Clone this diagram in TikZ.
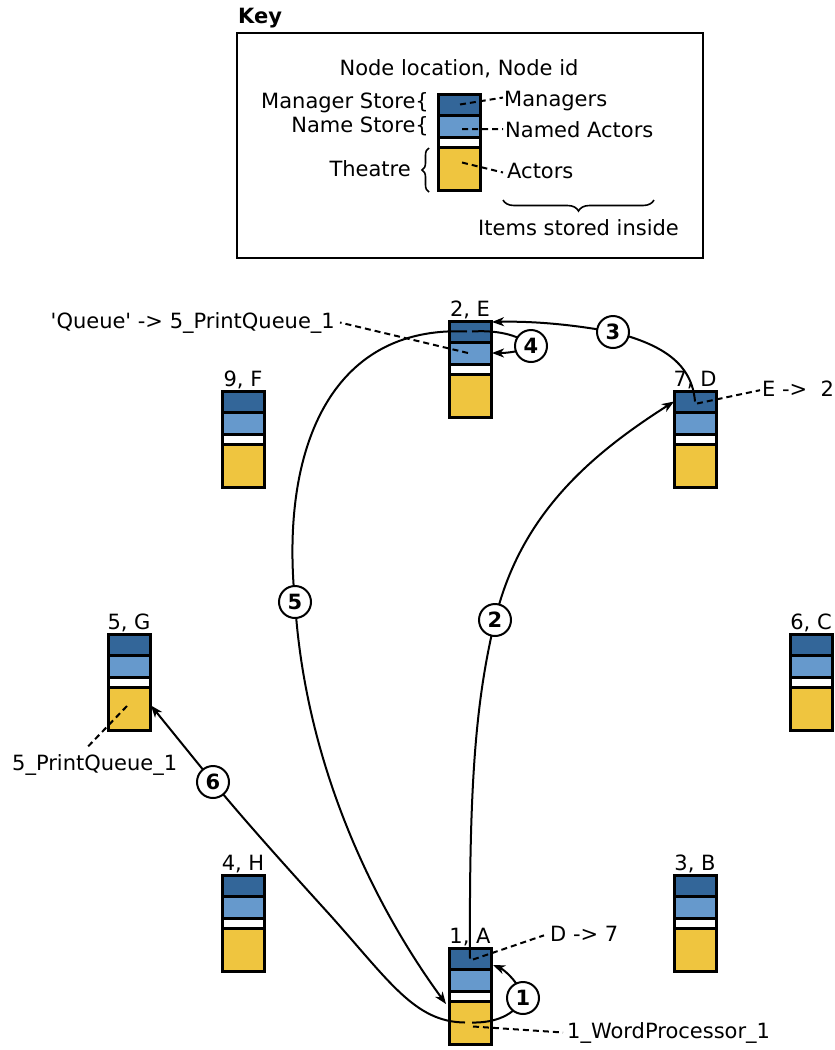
\documentclass[tikz,border=0pt]{standalone}
\usepackage{fontspec}
\newfontfamily\dvs{DejaVu Sans}
\setmainfont{DejaVu Sans}
\usetikzlibrary{arrows.meta,decorations.pathreplacing,calc}
\definecolor{cMgr}{HTML}{336699}
\definecolor{cNam}{HTML}{6699CC}
\definecolor{cThr}{HTML}{EFC53F}
\newcommand\drawstack[3]{%
  \node[mgrbox] (#1-m) at (#2,#3+11.5) {};
  \node[nambox] (#1-n) at (#2,#3+33) {};
  \node[gapbox] (#1-w) at (#2,#3+49) {};
  \node[thrbox] (#1-t) at (#2,#3+75.5) {};
  \draw[stackline] (#1-m.north west) rectangle (#1-t.south east);
  \draw[stackline] (#1-m.south west) -- (#1-m.south east);
  \draw[stackline] (#1-n.south west) -- (#1-n.south east);
  \draw[stackline] (#1-w.south west) -- (#1-w.south east);}
\begin{document}
\begin{tikzpicture}[x=1pt,y=-1pt,
  layer/.style={minimum width=42pt, inner sep=0pt, outer sep=0pt},
  mgrbox/.style={layer, fill=cMgr, minimum height=21pt},
  nambox/.style={layer, fill=cNam, minimum height=22pt},
  gapbox/.style={layer, fill=white, minimum height=10pt},
  thrbox/.style={layer, fill=cThr, minimum height=43pt},
  stackline/.style={line width=3pt, line join=miter},
  lbl/.style={inner sep=0pt, font=\dvs\fontsize{21pt}{25pt}\selectfont},
  conn/.style={line width=2pt, -{Stealth[length=12pt,width=9pt,inset=3.5pt]}},
  dashln/.style={line width=2pt, dash pattern=on 6pt off 4pt},
  numc/.style={circle, draw, line width=2pt, fill=white, minimum size=32pt, inner sep=0pt, font=\dvs\fontsize{21pt}{25pt}\selectfont\bfseries},
  bracestyle/.style={line width=1.6pt, decorate}]
\useasboundingbox (0,0) rectangle (835,1050);

% ---------- Key ----------
\node[lbl, font=\dvs\fontsize{21pt}{25pt}\selectfont\bfseries, anchor=base west] (keyt) at (238,23) {Key};
\node[draw, line width=2pt, minimum width=466pt, minimum height=225pt, inner sep=0pt] (keybox) at (470,145.5) {};
\node[lbl, anchor=base] (keyloc) at (459,75) {Node location, Node id};
\drawstack{K}{459}{93}
\node[lbl, anchor=base east] (kms) at (429,108) {Manager Store\{};
\node[lbl, anchor=base east] (kns) at (429,132) {Name Store\{};
\node[lbl, anchor=base east] (kth) at (411,176) {Theatre};
\draw[bracestyle, decoration={brace, amplitude=7pt}] (429,192) -- (429,148);
\node[lbl, anchor=base west] (kman) at (504,106) {Managers};
\node[lbl, anchor=base west] (knam) at (505,137) {Named Actors};
\node[lbl, anchor=base west] (kact) at (507,178) {Actors};
\draw[dashln] ($(K-m.center)+(1,0)$) -- ($(kman.west)+(-1,-3)$);
\draw[dashln] ($(K-n.center)+(3,3)$) -- ($(knam.west)+(-2,0)$);
\draw[dashln] ($(K-t.center)+(3,-6)$) -- ($(kact.west)+(-4,2)$);
\draw[bracestyle, decoration={brace, amplitude=11pt}] (654,200) -- (503,200);
\node[lbl, anchor=base west] (kitems) at (478,235) {Items stored inside};

% ---------- Nodes ----------
\drawstack{E}{470}{320}
\drawstack{F}{243}{390}
\drawstack{D}{695}{390}
\drawstack{G}{129}{633}
\drawstack{C}{811}{633}
\drawstack{H}{243}{874}
\drawstack{B}{695}{874}
\drawstack{A}{470}{947}
\node[lbl, anchor=base] (E-l) at (470,316) {2, E};
\node[lbl, anchor=base] (F-l) at (243,386) {9, F};
\node[lbl, anchor=base] (D-l) at (695,386) {7, D};
\node[lbl, anchor=base] (G-l) at (129,629) {5, G};
\node[lbl, anchor=base] (C-l) at (811,629) {6, C};
\node[lbl, anchor=base] (H-l) at (243,870) {4, H};
\node[lbl, anchor=base] (B-l) at (695,870) {3, B};
\node[lbl, anchor=base] (A-l) at (470,943) {1, A};

% ---------- Text labels ----------
\node[lbl, anchor=base east] (tq) at (335,328) {'Queue' -> 5\_PrintQueue\_1};
\node[lbl, anchor=base west] (te) at (762,396) {E ->~~2};
\node[lbl, anchor=base west] (td) at (550,941) {D -> 7};
\node[lbl, anchor=base west] (tw) at (567,1038) {1\_WordProcessor\_1};
\node[lbl, anchor=base west] (tp) at (12,770) {5\_PrintQueue\_1};

\draw[dashln] ($(E-n.center)+(-2,0)$) -- ($(tq.east)+(5,0)$);
\draw[dashln] ($(D-m.center)+(2,2)$) -- ($(te.west)+(-2,2)$);
\draw[dashln] ($(A-m.center)+(3,1)$) -- ($(td.west)+(-6,2)$);
\draw[dashln] ($(A-t.center)+(3,4)$) -- ($(tw.west)+(-4,0)$);
\draw[dashln] ($(G-t.center)+(-2,-2.5)$) -- ($(tp.north)+(-8,-6)$);

% ---------- Connectors ----------
\coordinate (p1) at (523,998);
\coordinate (p2) at (495,620);
\coordinate (p3) at (613,332);
\coordinate (p4) at (531,346);
\coordinate (p5) at (295,602);
\coordinate (p6) at (213,782);
\coordinate (q6) at (330,915);

\draw[conn] ($(A-t.center)+(2,0)$) .. controls (495,1023) and (515,1015) .. (p1)
  .. controls (521,985) and (505,970) .. ($(A-m.south east)+(2,-4)$);
\draw[conn] (A-m.center) .. controls (469,780) and (476,700) .. (p2)
  .. controls (520,515) and (590,455) .. (D-m.west);
\draw[conn] (D-m.center) .. controls (692,365) and (665,345) .. (p3)
  .. controls (570,324) and (530,321) .. ($(E-m.north east)+(1,1)$);
\draw[conn] ($(E-m.center)+(2,0)$) .. controls (495,330) and (518,334) .. (p4)
  .. controls (520,352) and (506,353) .. ($(E-n.east)+(1,0)$);
\draw[conn] ($(E-m.center)+(-3,0)$) .. controls (330,325) and (280,450) .. (p5)
  .. controls (305,760) and (370,900) .. ($(A-t.north west)+(-3,3)$);
\draw[conn] ($(A-t.center)+(-5,0)$) .. controls (415,1022) and (390,982) .. (q6)
  .. controls (280,860) and (240,815) .. (p6) -- ($(G-t.east)+(1,-3)$);

\node[numc] (n1) at (p1) {1};
\node[numc] (n2) at (p2) {2};
\node[numc] (n3) at (p3) {3};
\node[numc] (n4) at (p4) {4};
\node[numc] (n5) at (p5) {5};
\node[numc] (n6) at (p6) {6};
\end{tikzpicture}
\end{document}
